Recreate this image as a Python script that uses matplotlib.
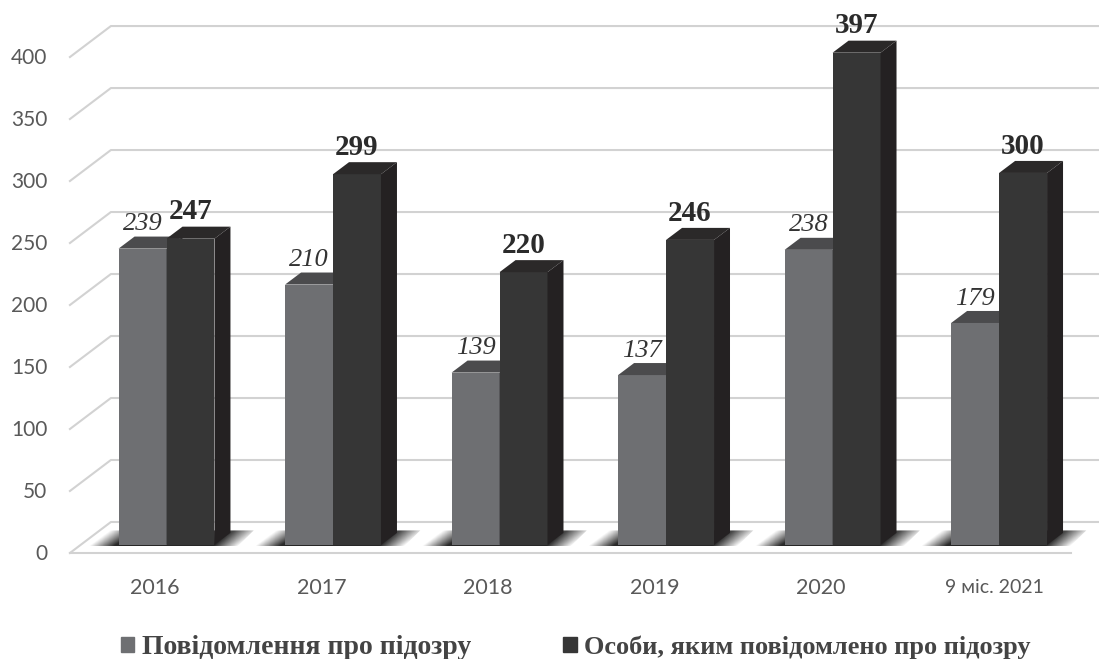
import numpy as np
import matplotlib
matplotlib.use('Agg')
import matplotlib.pyplot as plt
from matplotlib.patches import Polygon, Patch

categories = ['2016', '2017', '2018', '2019', '2020', '9 міс. 2021']
notices = [239, 210, 139, 137, 238, 179]
persons = [247, 299, 220, 246, 397, 300]
y_ticks = [0, 50, 100, 150, 200, 250, 300, 350, 400]
legend_labels = ['Повідомлення про підозру', 'Особи, яким повідомлено про підозру']

GRAY = ('#6e6f72', '#4b4b4d', '#3a3a3c')   # front, top, side
DARK = ('#363636', '#2b2929', '#242122')
GRID = '#d2d2d2'
TEXT = '#595959'

w = 0.288        # bar width
base = 6.5       # bar foot sits a little above the front floor edge
dx, dy = 0.096, 9.7     # depth of a bar
wall_dx, wall_dy = 0.246, 25   # depth of the chart box

fig = plt.figure(figsize=(10.99, 6.59), dpi=100)
ax = fig.add_axes([0, 0, 1, 1])
ax.set_xlim(-1, 5.6)
ax.set_ylim(-85.5, 446)
ax.axis('off')

x = np.arange(len(categories))

# grid lines, front edge -> back wall -> right side
for t in y_ticks:
    ax.plot([-0.58, -0.58 + wall_dx, 5.6], [t, t + wall_dy, t + wall_dy],
            color=GRID, lw=1.5, zorder=1, solid_joinstyle='round')
    ax.text(-0.715, t - 1, str(t), ha='right', va='center', family='Lato',
            fontsize=15, color=TEXT)
ax.plot([-0.58, 5.43], [0, 0], color=GRID, lw=1.5, zorder=1)


def floor_shadow(left, right):
    # soft shadow on the floor round one group of bars
    x0, x1 = left - 0.18, right + dx + 0.14
    y0, y1 = base - 1, base + dy + 2
    xs = np.linspace(x0, x1, 200)
    ys = np.linspace(y0, y1, 30)
    xx, yy = np.meshgrid(xs, ys)
    sheared = xx - (yy - y0) * dx / dy
    fade = np.minimum((sheared - x0) / 0.15, (x1 - dx - sheared) / 0.15)
    rgba = np.zeros(xx.shape + (4,))
    rgba[..., :3] = 0.15
    rgba[..., 3] = np.clip(fade, 0, 1) * (1 - 0.15 * (yy - y0) / (y1 - y0))
    im = ax.imshow(rgba, extent=(x0, x1, y0, y1), origin='lower',
                   aspect='auto', zorder=2, interpolation='bilinear')
    im.set_clip_path(Polygon([(x0, y0), (x1 - dx, y0), (x1, y1), (x0 + dx, y1)],
                             transform=ax.transData))


def bar3d(left, value, colors, zorder):
    right = left + w
    top = base + value
    ax.bar(left, value, width=w, bottom=base, align='edge', color=colors[0], lw=0, zorder=zorder)
    ax.add_patch(Polygon([(left, top), (right, top), (right + dx, top + dy), (left + dx, top + dy)],
                         color=colors[1], lw=0, zorder=zorder))
    ax.add_patch(Polygon([(right, base), (right + dx, base + dy), (right + dx, top + dy), (right, top)],
                         color=colors[2], lw=0, zorder=zorder))


for i in x:
    floor_shadow(i - w, i + w)
    bar3d(i - w, notices[i], GRAY, 3)
    bar3d(i, persons[i], DARK, 4)
    ax.text(i - w / 2, base + notices[i] + dy + 10, str(notices[i]), ha='center', va='center',
            family='Liberation Serif', style='italic', fontsize=19, color='#333333', zorder=5)
    ax.text(i + w / 2, base + persons[i] + dy + 12, str(persons[i]), ha='center', va='center',
            family='Liberation Serif', weight='bold', fontsize=21, color='#2b2b2b', zorder=5)
    last = i == len(categories) - 1
    ax.text(i - (0.03 if last else 0.07), -28, categories[i], ha='center', va='center', family='Lato',
            fontsize=14 if last else 15.5, color=TEXT)

handles = [Patch(color=GRAY[0]), Patch(color=DARK[0])]
leg = ax.legend(handles, legend_labels, ncols=2, frameon=False, loc='center',
                bbox_to_anchor=(0.524, 0.018), handlelength=0.5, handleheight=0.5,
                handletextpad=0.3, columnspacing=3.5, labelcolor='#444444',
                prop={'family': 'Liberation Serif', 'weight': 'bold', 'size': 19})
leg.get_texts()[0].set_fontsize(20)

fig.savefig('out.png', dpi=100)
